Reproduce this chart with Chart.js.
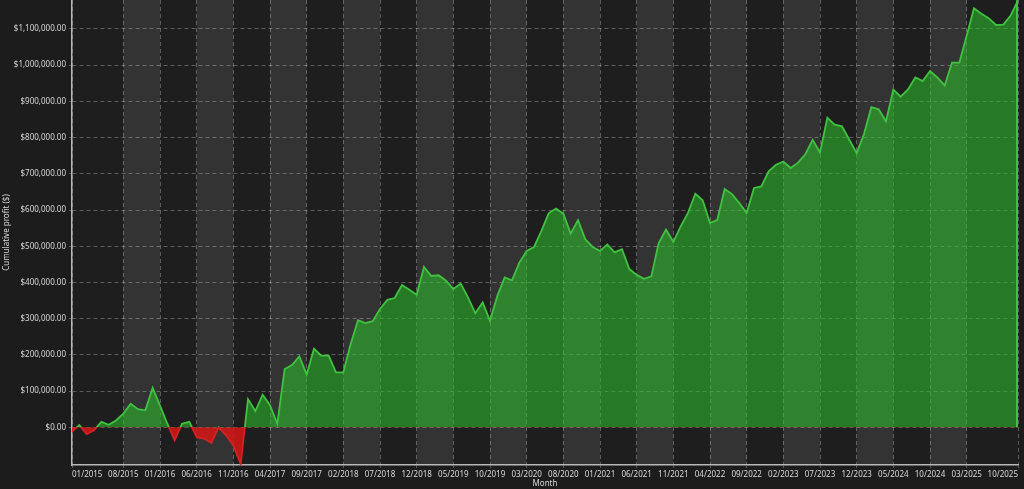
<!DOCTYPE html>
<html>
<head>
<meta charset="utf-8">
<script src="https://cdn.jsdelivr.net/npm/chart.js@4/dist/chart.umd.min.js"></script>
<style>
  html,body{margin:0;padding:0;background:#1c1c1c;}
  #wrap{width:1024px;height:489px;position:relative;}
</style>
</head>
<body>
<div id="wrap"><canvas id="chart" width="1024" height="489"></canvas></div>
<script>
// month labels 01/2015 .. 10/2025
const months = [];
for(let y=2015;y<=2025;y++){
  for(let m=1;m<=12;m++){
    if(y==2025 && m>10) break;
    months.push(String(m).padStart(2,"0")+"/"+y);
  }
}

// cumulative profit, thousands of $
const profitK = [
  -12, 6, -19, -8, 15, 7, 19, 38, 65, 50,
  47, 109, 60, 10, -36, 10, 15, -27, -31, -43,
  0, -22, -50, -102, 78, 45, 90, 61, 10, 161,
  172, 196, 146, 217, 198, 198, 152, 152, 230, 296,
  288, 293, 327, 352, 357, 393, 380, 366, 443, 418,
  420, 405, 382, 397, 359, 315, 345, 294, 363, 414,
  406, 455, 487, 498, 542, 591, 604, 590, 535, 572,
  519, 498, 487, 505, 483, 492, 437, 421, 410, 417,
  509, 546, 512, 555, 592, 645, 627, 564, 573, 658,
  644, 619, 592, 661, 665, 707, 725, 734, 716, 731,
  754, 794, 759, 855, 836, 831, 794, 757, 810, 884,
  878, 845, 933, 913, 933, 966, 956, 984, 966, 944,
  1007, 1007, 1081, 1157, 1142, 1130, 1111, 1112, 1137, 1179
];

// x ticks shown: first, every 5th from 08/2015, last
const tickIdx = [0];
for(let i=7;i<months.length-5;i+=5) tickIdx.push(i);
tickIdx.push(months.length-1);

// y ticks: $0 .. $1.1M
const yTicks = [0,100000,200000,300000,400000,500000,600000,700000,800000,900000,1000000,1100000];
const yMin = -104000, yMax = 1180000;

const GREEN = "#3fc23f", RED = "#d42222";
const BG = "#1c1c1c", DARK = "#1e1e1e", LIGHT = "#333333";

Chart.defaults.font.family = "'Noto Sans', sans-serif";
Chart.defaults.font.size = 8;
Chart.defaults.color = "#d8d8d8";

const stripes = {
  id:"stripes",
  beforeDraw(chart){
    const {ctx, chartArea:a, scales:{x}} = chart;
    ctx.save();
    ctx.fillStyle = BG;
    ctx.fillRect(0,0,chart.width,chart.height);
    ctx.fillStyle = DARK;
    ctx.fillRect(a.left,a.top,a.right-a.left,a.bottom-a.top);
    ctx.fillStyle = LIGHT;
    // light band every other interval starting at 08/2015
    for(let k=1;k<tickIdx.length-1;k+=2){
      const x0 = x.getPixelForValue(tickIdx[k]);
      const x1 = x.getPixelForValue(tickIdx[k+1]);
      ctx.fillRect(x0,a.top,x1-x0,a.bottom-a.top);
    }
    ctx.restore();
  },
  afterDatasetsDraw(chart){
    // closing edge of the area at the last month
    const {ctx, scales:{x,y}} = chart;
    const last = profitK.length-1;
    const px = x.getPixelForValue(last);
    ctx.save();
    ctx.strokeStyle = GREEN;
    ctx.lineWidth = 2;
    ctx.beginPath();
    ctx.moveTo(px-1, y.getPixelForValue(profitK[last]*1000));
    ctx.lineTo(px-1, y.getPixelForValue(0));
    ctx.stroke();
    ctx.restore();
  }
};

function lineColor(c){
  const chart = c.chart, a = chart.chartArea;
  if(!a) return GREEN;
  const y0 = chart.scales.y.getPixelForValue(0);
  const t = Math.min(1,Math.max(0,(y0-a.top)/(a.bottom-a.top)));
  const g = chart.ctx.createLinearGradient(0,a.top,0,a.bottom);
  g.addColorStop(0,GREEN); g.addColorStop(t,GREEN);
  g.addColorStop(t,RED); g.addColorStop(1,RED);
  return g;
}

const money = v => "$" + v.toLocaleString("en-US",{minimumFractionDigits:2,maximumFractionDigits:2});

new Chart(document.getElementById("chart"), {
  type:"line",
  data:{
    labels:months,
    datasets:[{
      data:profitK.map(v=>v*1000),
      borderColor:lineColor,
      borderWidth:1.8,
      pointRadius:0,
      tension:0,
      fill:{target:"origin", above:"rgba(45,190,45,0.58)", below:"rgba(215,22,22,0.85)"}
    }]
  },
  options:{
    responsive:false,
    animation:false,
    layout:{padding:{top:0,right:6,left:0,bottom:0}},
    plugins:{legend:{display:false}, tooltip:{enabled:false}},
    scales:{
      x:{
        offset:false,
        afterBuildTicks(s){ s.ticks = s.ticks.filter(t=>tickIdx.includes(t.value)); },
        afterFit(s){ s.height = 24; s.paddingLeft = 0; s.paddingRight = 0; },
        ticks:{autoSkip:false, maxRotation:0, align:"inner", padding:2, color:"#d8d8d8"},
        grid:{color:"rgba(255,255,255,0.28)", tickLength:3, drawOnChartArea:true},
        border:{color:"#b8b8b8", width:1.5, dash:[4,3]},
        title:{display:true, text:"Month", color:"#d8d8d8", padding:{top:0,bottom:0}}
      },
      y:{
        min:yMin, max:yMax,
        afterBuildTicks(s){ s.ticks = yTicks.map(v=>({value:v})); },
        afterFit(s){ s.width = 72; s.paddingTop = 0; s.paddingBottom = 0; },
        ticks:{callback:v=>money(v), padding:3, color:"#d8d8d8"},
        grid:{color:"rgba(255,255,255,0.28)", tickLength:3},
        border:{color:"#b8b8b8", width:1.5, dash:[4,3]},
        title:{display:true, text:"Cumulative profit ($)", color:"#d8d8d8", padding:{top:2,bottom:0}}
      }
    }
  },
  plugins:[stripes]
});
</script>
</body>
</html>
